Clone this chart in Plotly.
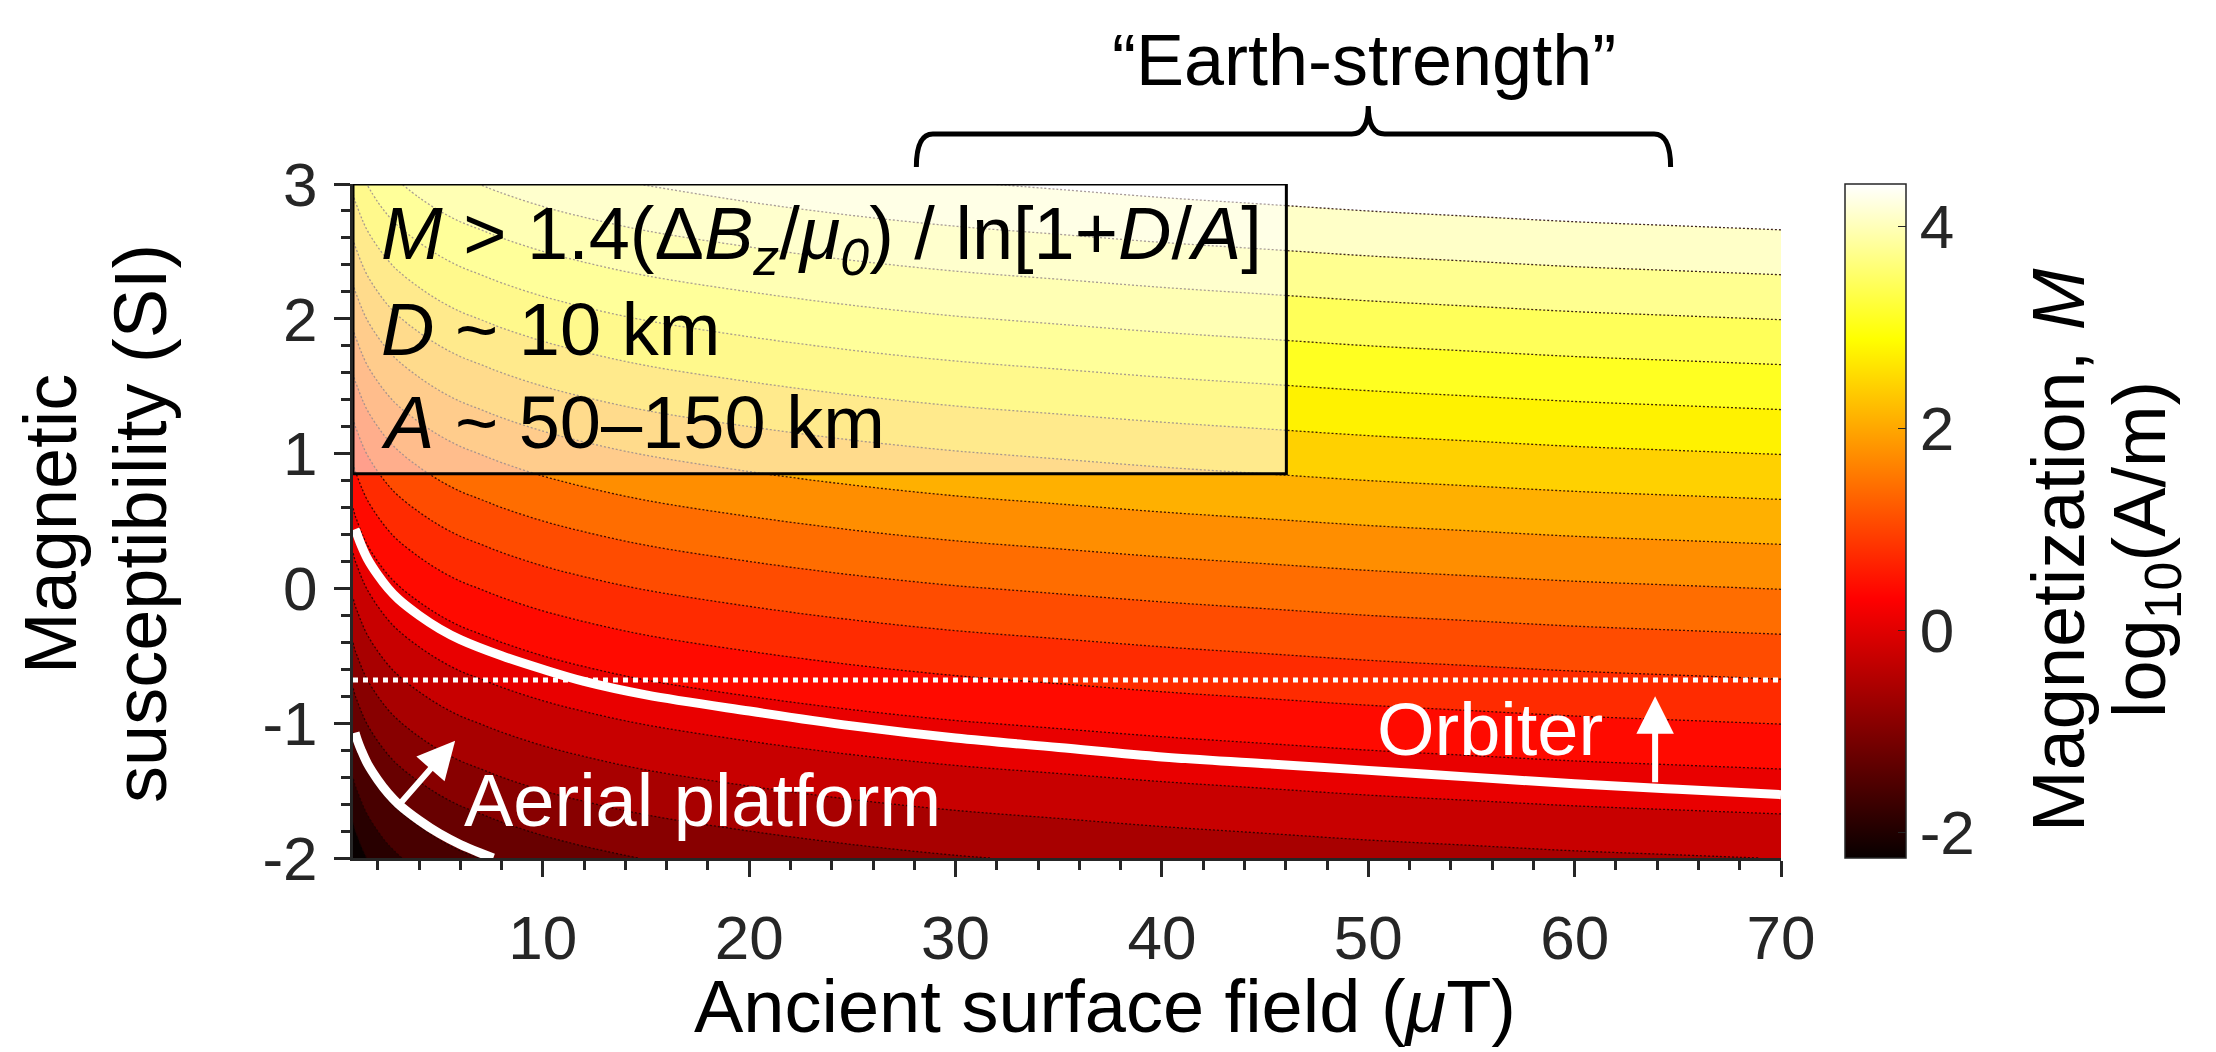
import plotly.graph_objects as go

# ---------------- data ----------------
field_uT = [0.8, 0.9, 1.0, 1.2, 1.5, 2, 2.5, 3, 4, 5, 6, 7, 8, 10, 12, 15,
            20, 25, 30, 35, 40, 45, 50, 55, 60, 65, 70]
# log10 magnetization (A/m) at susceptibility 10^0, per field sample
logM_at_chi1 = [-0.20, -0.14, -0.10, -0.02, 0.08, 0.20, 0.30, 0.38, 0.50,
                0.60, 0.68, 0.74, 0.80, 0.90, 0.98, 1.08, 1.20, 1.30, 1.38,
                1.44, 1.50, 1.55, 1.60, 1.64, 1.68, 1.71, 1.74]
log_chi = [-2, -1, 0, 1, 2, 3]

contour_start = -1.9333
contour_end = 4.45
contour_step = 1 / 3
cbar_min, cbar_max = -2.25, 4.42

orbiter_field = [0.9, 1.0, 1.2, 1.5, 2, 2.5, 3, 4, 5, 6, 8, 10, 12, 15, 20,
                 25, 30, 35, 40, 45, 50, 55, 60, 65, 70]
orbiter_chi = [0.44, 0.40, 0.32, 0.22, 0.10, 0.00, -0.08, -0.20, -0.30, -0.38,
               -0.50, -0.60, -0.69, -0.79, -0.91, -1.02, -1.11, -1.18, -1.25,
               -1.30, -1.35, -1.40, -1.45, -1.49, -1.53]

aerial_field = [0.9, 1.0, 1.2, 1.5, 2, 2.5, 3, 4, 5, 6, 7, 7.6]
aerial_chi = [-1.07, -1.12, -1.20, -1.30, -1.42, -1.52, -1.60, -1.72, -1.82,
              -1.90, -1.965, -2.0]

dotted_field = [0.8, 70]
dotted_chi = [-0.68, -0.68]

x_ticks = [10, 20, 30, 40, 50, 60, 70]
y_ticks = [-2, -1, 0, 1, 2, 3]
cbar_ticks = [-2, 0, 2, 4]

z = [[c + m for m in logM_at_chi1] for c in log_chi]

# ---------------- styling ----------------
FONT = "Liberation Sans, Arial, Helvetica, sans-serif"
W, H = 2216, 1052
L, R, T, B = 353, 435, 184, 194
PW, PH = W - L - R, H - T - B
AX = "#262626"
TICKSIZE = 62


def px(xp):
    return (xp - L) / PW


def py(yp):
    return (H - B - yp) / PH


hot = [[0.0, "rgb(8,0,0)"], [0.385, "rgb(255,0,0)"],
       [0.77, "rgb(255,255,0)"], [1.0, "rgb(255,255,255)"]]

fig = go.Figure()

fig.add_trace(go.Contour(
    x=field_uT, y=log_chi, z=z,
    colorscale=hot, showscale=False,
    contours=dict(start=contour_start, end=contour_end, size=contour_step,
                  coloring="fill", showlines=True),
    line=dict(color="rgba(30,0,0,0.85)", width=1.3, dash="2px,2px",
              smoothing=1),
    hoverinfo="skip",
))

# colorbar carrier
fig.add_trace(go.Scatter(
    x=[10], y=[-10], mode="markers",
    marker=dict(size=1, opacity=0, color=[0], cmin=cbar_min, cmax=cbar_max,
                colorscale=hot, showscale=True,
                colorbar=dict(x=px(1845), xanchor="left", xpad=0, ypad=0,
                              y=0.5, yanchor="middle", len=1,
                              thickness=61, thicknessmode="pixels",
                              outlinewidth=1.5, outlinecolor=AX,
                              tickmode="array", tickvals=cbar_ticks,
                              ticktext=[str(v) for v in cbar_ticks],
                              ticks="inside", ticklen=8, tickcolor=AX,
                              tickfont=dict(family=FONT, size=TICKSIZE,
                                            color=AX))),
    hoverinfo="skip", showlegend=False,
))

fig.add_trace(go.Scatter(
    x=dotted_field, y=dotted_chi, mode="lines",
    line=dict(color="white", width=5, dash="dot"),
    hoverinfo="skip", showlegend=False))
fig.add_trace(go.Scatter(
    x=orbiter_field, y=orbiter_chi, mode="lines",
    line=dict(color="white", width=9, shape="spline"),
    hoverinfo="skip", showlegend=False))
fig.add_trace(go.Scatter(
    x=aerial_field, y=aerial_chi, mode="lines",
    line=dict(color="white", width=9, shape="spline"),
    hoverinfo="skip", showlegend=False))

shapes = [
    # legend box
    dict(type="rect", xref="x", yref="y", x0=0.8, x1=46.03, y0=0.85, y1=3,
         line=dict(color="black", width=3),
         fillcolor="rgba(255,255,255,0.55)", layer="above"),
    # brace
    dict(type="path", xref="x", yref="paper", layer="above",
         path=("M 28.1,1.0252 Q 28.1,1.0742 28.9,1.0742 L 49.2,1.0742 "
               "Q 50.0,1.0742 50.0,1.1157 Q 50.0,1.0742 50.8,1.0742 "
               "L 63.85,1.0742 Q 64.65,1.0742 64.65,1.0252"),
         line=dict(color="black", width=5)),
]

ann = []
big = dict(family=FONT, size=74, color="black")
white = dict(family=FONT, size=74, color="white")

# legend text
for txt, yy in [("<i>M</i> > 1.4(Δ<i>B<sub>z</sub></i>/<i>μ<sub>0</sub></i>) / ln[1+<i>D</i>/<i>A</i>]", 239),
                ("<i>D</i> ~ 10 km", 329),
                ("<i>A</i> ~ 50–150 km", 422)]:
    ann.append(dict(text=txt, xref="paper", yref="paper", x=px(379), y=py(yy),
                    xanchor="left", yanchor="middle", showarrow=False,
                    font=big))

ann.append(dict(text="“Earth-strength”", xref="paper", yref="paper",
                x=px(1364), y=py(60), xanchor="center", yanchor="middle",
                showarrow=False, font=dict(family=FONT, size=72, color="black")))

ann.append(dict(text="Orbiter", xref="x", yref="y", x=55.9, y=-1.05,
                xanchor="center", yanchor="middle", showarrow=False,
                font=white))
ann.append(dict(text="Aerial platform", xref="x", yref="y", x=6.1, y=-1.57,
                xanchor="left", yanchor="middle", showarrow=False,
                font=white))

# arrows
ann.append(dict(x=63.9, y=-0.80, ax=63.9, ay=-1.45, xref="x", yref="y",
                axref="x", ayref="y", text="", showarrow=True,
                arrowhead=2, arrowsize=1.25, arrowwidth=6, arrowcolor="white"))
ann.append(dict(x=5.75, y=-1.13, ax=2.95, ay=-1.62, xref="x", yref="y",
                axref="x", ayref="y", text="", showarrow=True,
                arrowhead=2, arrowsize=1.25, arrowwidth=6, arrowcolor="white"))

# axis titles
ann.append(dict(text="Ancient surface field (<i>μ</i>T)", xref="paper",
                yref="paper", x=px(1105), y=py(1006), xanchor="center",
                yanchor="middle", showarrow=False, font=big))
ann.append(dict(text="Magnetic", xref="paper", yref="paper", x=px(50),
                y=py(524), xanchor="center", yanchor="middle",
                textangle=-90, showarrow=False, font=big))
ann.append(dict(text="susceptibility (SI)", xref="paper", yref="paper",
                x=px(140), y=py(524), xanchor="center", yanchor="middle",
                textangle=-90, showarrow=False, font=big))
ann.append(dict(text="Magnetization, <i>M</i>", xref="paper", yref="paper",
                x=px(2058), y=py(550), xanchor="center", yanchor="middle",
                textangle=-90, showarrow=False, font=big))
ann.append(dict(text="log<sub>10</sub>(A/m)", xref="paper", yref="paper",
                x=px(2145), y=py(550), xanchor="center", yanchor="middle",
                textangle=-90, showarrow=False, font=big))

fig.update_layout(
    width=W, height=H, margin=dict(l=L, r=R, t=T, b=B, pad=0),
    paper_bgcolor="white", plot_bgcolor="white",
    font=dict(family=FONT, color=AX),
    showlegend=False, shapes=shapes, annotations=ann,
    xaxis=dict(range=[0.8, 70], showgrid=False, zeroline=False,
               showline=True, linecolor=AX, linewidth=3, mirror=False,
               tickmode="array", tickvals=x_ticks,
               ticktext=[str(v) for v in x_ticks],
               ticks="outside", ticklen=16, tickwidth=3, tickcolor=AX,
               tickfont=dict(family=FONT, size=TICKSIZE, color=AX),
               ticklabelstandoff=8,
               minor=dict(tickmode="linear", tick0=0, dtick=2, ticks="outside",
                          ticklen=9, tickwidth=3, tickcolor=AX)),
    yaxis=dict(range=[-2, 3], showgrid=False, zeroline=False,
               showline=True, linecolor=AX, linewidth=3, mirror=False,
               tickmode="array", tickvals=y_ticks,
               ticktext=[str(v) for v in y_ticks],
               ticks="outside", ticklen=16, tickwidth=3, tickcolor=AX,
               tickfont=dict(family=FONT, size=TICKSIZE, color=AX),
               ticklabelstandoff=4,
               minor=dict(tickmode="linear", tick0=-2, dtick=0.2,
                          ticks="outside", ticklen=9, tickwidth=3,
                          tickcolor=AX)),
)

fig.write_html("out.html")
